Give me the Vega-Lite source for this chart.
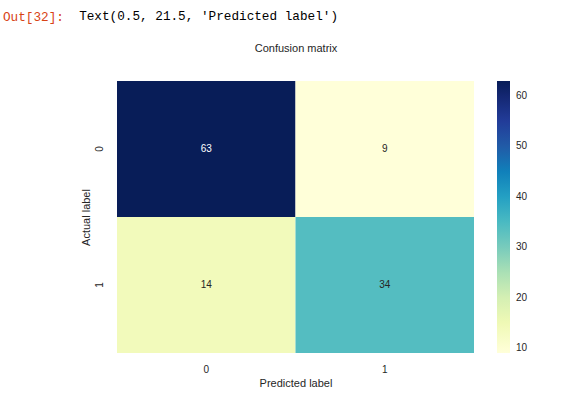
{
  "$schema": "https://vega.github.io/schema/vega-lite/v6.json",
  "width": 357,
  "height": 272,
  "autosize": {"type": "none"},
  "padding": {"left": 117, "top": 81, "right": 95, "bottom": 43},
  "background": "white",
  "title": {
    "text": "Out[32]:",
    "subtitle": "\u200b\u00a0\u00a0\u00a0\u00a0\u00a0\u00a0\u00a0\u00a0\u00a0\u00a0Text(0.5, 21.5, 'Predicted label')",
    "anchor": "start",
    "frame": "group",
    "dx": -114,
    "offset": 17,
    "font": "Liberation Mono",
    "fontSize": 12.7,
    "fontWeight": "normal",
    "color": "#D84315",
    "subtitleFont": "Liberation Mono",
    "subtitleFontSize": 12.7,
    "subtitleColor": "#000000",
    "subtitlePadding": -14
  },
  "data": {
    "values": [
      {"actual": "0", "predicted": "0", "value": 63},
      {"actual": "0", "predicted": "1", "value": 9},
      {"actual": "1", "predicted": "0", "value": 14},
      {"actual": "1", "predicted": "1", "value": 34}
    ]
  },
  "layer": [
    {
      "mark": {"type": "rect"},
      "encoding": {
        "x": {
          "field": "predicted", "type": "nominal", "sort": ["0", "1"],
          "scale": {"paddingInner": 0, "paddingOuter": 0},
          "axis": {"orient": "bottom", "title": "Predicted label", "labelAngle": 0, "ticks": false, "tickSize": 0, "domain": false, "labelPadding": 11, "titlePadding": 3}
        },
        "y": {
          "field": "actual", "type": "nominal", "sort": ["0", "1"],
          "scale": {"paddingInner": 0, "paddingOuter": 0},
          "axis": {"title": "Actual label", "labelAngle": 270, "ticks": false, "tickSize": 0, "domain": false, "labelPadding": 13, "titlePadding": 3}
        },
        "color": {
          "field": "value", "type": "quantitative",
          "scale": {"domain": [9, 63], "range": ["#ffffd9", "#edf8b1", "#c7e9b4", "#7fcdbb", "#41b6c4", "#1d91c0", "#225ea8", "#253494", "#081d58"]},
          "legend": {"title": null, "values": [10, 20, 30, 40, 50, 60], "gradientLength": 272, "gradientThickness": 13, "offset": 23, "padding": 0, "labelFont": "Liberation Sans", "labelFontSize": 10, "labelColor": "#262626", "labelOffset": 6, "gradientStrokeWidth": 0}
        }
      }
    },
    {
      "mark": {"type": "text", "font": "Liberation Sans", "fontSize": 10},
      "encoding": {
        "x": {
          "field": "predicted", "type": "nominal", "sort": ["0", "1"],
          "axis": {"orient": "top", "title": "Confusion matrix", "labels": false, "ticks": false, "domain": false, "titlePadding": 28}
        },
        "y": {
          "field": "actual", "type": "nominal", "sort": ["0", "1"],
          "axis": {"title": "Actual label", "labelAngle": 270, "ticks": false, "tickSize": 0, "domain": false, "labelPadding": 13, "titlePadding": 3}
        },
        "text": {"field": "value", "type": "quantitative"},
        "color": {"condition": {"test": "datum.value > 40", "value": "#ffffff"}, "value": "#262626"}
      }
    }
  ],
  "resolve": {"axis": {"x": "independent"}},
  "config": {
    "view": {"stroke": null},
    "axis": {"grid": false, "labelFont": "Liberation Sans", "labelFontSize": 10, "labelColor": "#262626", "titleFont": "Liberation Sans", "titleFontSize": 11, "titleFontWeight": "normal", "titleColor": "#262626"}
  }
}
